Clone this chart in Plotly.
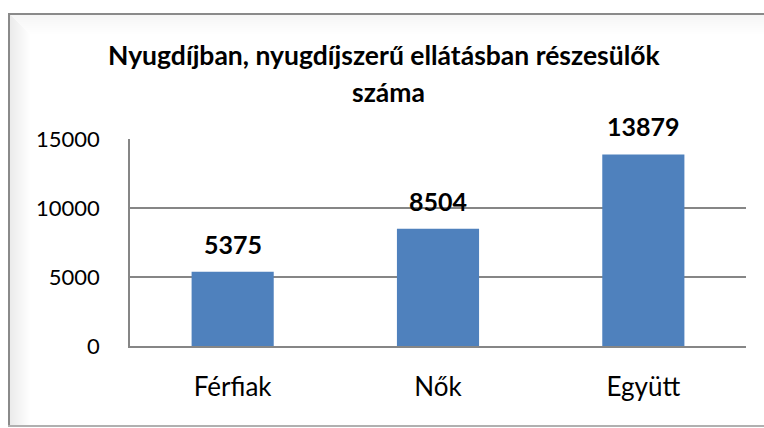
import plotly.graph_objects as go

categories = ["Férfiak", "Nők", "Együtt"]
values = [5375, 8504, 13879]
tick_vals = [0, 5000, 10000, 15000]
title_lines = ["Nyugdíjban, nyugdíjszerű ellátásban részesülők", "száma"]

W, H = 764, 428
L, R, T, B = 130, 18, 139, 82
pw, ph = W - L - R, H - T - B

def px(x):
    return (x - L) / pw

def py(y):
    return (H - B - y) / ph

FONT = "Lato, Carlito, Calibri, sans-serif"

fig = go.Figure()
fig.add_trace(go.Bar(
    x=categories, y=values, width=0.4,
    marker=dict(color="#4F81BD", line=dict(width=0)),
    hoverinfo="skip",
))

annotations = []
for c, v in zip(categories, values):
    annotations.append(dict(
        x=c, y=v, xref="x", yref="y", text=f"<b>{v}</b>", showarrow=False,
        yanchor="bottom", yshift=11, font=dict(family=FONT, size=25, color="#000000"),
    ))
annotations.append(dict(
    x=px(384), y=py(55), xref="paper", yref="paper", text=f"<b>{title_lines[0]}</b>",
    showarrow=False, xanchor="center", yanchor="middle",
    font=dict(family=FONT, size=26.5, color="#000000"),
))
annotations.append(dict(
    x=px(388), y=py(92), xref="paper", yref="paper", text=f"<b>{title_lines[1]}</b>",
    showarrow=False, xanchor="center", yanchor="middle",
    font=dict(family=FONT, size=26.5, color="#000000"),
))

shapes = []
# inner shadow on the frame (left and top)
steps = 20
for i in range(steps):
    op = 0.16 * (1 - i / steps)
    shapes.append(dict(type="rect", xref="paper", yref="paper",
                       x0=px(10 + i), x1=px(11 + i), y0=py(426), y1=py(15 + i),
                       fillcolor="#808080", opacity=op, line=dict(width=0), layer="below"))
    shapes.append(dict(type="rect", xref="paper", yref="paper",
                       x0=px(11 + i), x1=px(764), y0=py(16 + i), y1=py(15 + i),
                       fillcolor="#808080", opacity=op * 0.5, line=dict(width=0), layer="below"))
# frame border
shapes.append(dict(type="line", xref="paper", yref="paper", x0=px(9), x1=px(9), y0=py(427), y1=py(13),
                   line=dict(color="#8a8a8a", width=2)))
shapes.append(dict(type="line", xref="paper", yref="paper", x0=px(8), x1=px(764), y0=py(14), y1=py(14),
                   line=dict(color="#8a8a8a", width=2)))
shapes.append(dict(type="line", xref="paper", yref="paper", x0=px(8), x1=px(764), y0=py(426), y1=py(426),
                   line=dict(color="#b0b0b0", width=2)))

fig.update_layout(
    width=W, height=H,
    margin=dict(l=L, r=R, t=T, b=B, pad=0),
    paper_bgcolor="#ffffff", plot_bgcolor="#ffffff",
    showlegend=False,
    annotations=annotations,
    shapes=shapes,
    bargap=0.6,
)
fig.update_xaxes(
    showline=True, linecolor="#868686", linewidth=1.5, mirror=False,
    showgrid=False, ticks="", ticklabelstandoff=17,
    tickfont=dict(family=FONT, size=26, color="#000000"),
)
fig.update_yaxes(
    range=[0, 15000], tickvals=tick_vals, ticktext=[str(t) for t in tick_vals],
    showline=True, linecolor="#868686", linewidth=1.5,
    showgrid=True, gridcolor="#868686", gridwidth=1.5, zeroline=False,
    ticks="", ticklabelstandoff=24,
    tickfont=dict(family=FONT, size=22, color="#000000"),
)

fig.write_html("out.html", config={"displayModeBar": False},
               post_script="document.body.style.margin='0';document.body.style.overflow='hidden';")
